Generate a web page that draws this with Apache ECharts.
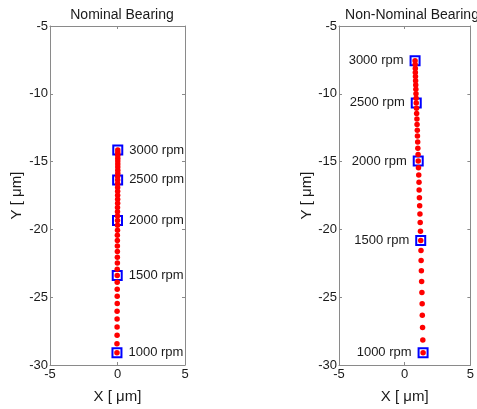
<!DOCTYPE html>
<html>
<head>
<meta charset="utf-8">
<script src="https://cdn.jsdelivr.net/npm/echarts@6/dist/echarts.min.js"></script>
<style>html,body{margin:0;padding:0;background:#fff}#c{width:477px;height:409px}</style>
</head>
<body>
<div id="c"></div>
<script>
// Speeds (rpm) of each measured point
var rpm = [1000,1050,1100,1150,1200,1250,1300,1350,1400,1450,1500,1550,1600,1650,1700,1750,1800,1850,1900,1950,2000,2050,2100,2150,2200,2250,2300,2350,2400,2450,2500,2550,2600,2650,2700,2750,2800,2850,2900,2950,3000];
var labeledRpm = [1000, 1500, 2000, 2500, 3000];

// Nominal bearing
var nominalX = [-0.04,-0.04,-0.03,-0.03,-0.03,-0.03,-0.02,-0.02,-0.02,-0.02,-0.02,-0.02,-0.01,-0.01,-0.01,-0.01,-0.01,-0.01,0.00,0.00,0.00,0.00,0.00,0.00,0.01,0.01,0.01,0.01,0.01,0.01,0.01,0.01,0.02,0.02,0.02,0.02,0.02,0.02,0.02,0.02,0.02];
var nominalY = [-29.10,-28.44,-27.80,-27.19,-26.60,-26.03,-25.47,-24.93,-24.41,-23.90,-23.40,-22.93,-22.48,-22.05,-21.63,-21.22,-20.82,-20.43,-20.06,-19.70,-19.35,-19.02,-18.70,-18.39,-18.08,-17.78,-17.48,-17.19,-16.91,-16.63,-16.35,-16.10,-15.86,-15.63,-15.40,-15.18,-14.96,-14.75,-14.54,-14.34,-14.15];

// Non-nominal bearing
var nonNominalX = [1.40,1.38,1.36,1.34,1.33,1.31,1.29,1.27,1.25,1.24,1.22,1.20,1.18,1.16,1.14,1.12,1.10,1.09,1.07,1.05,1.03,1.02,1.00,0.99,0.97,0.96,0.94,0.93,0.91,0.90,0.88,0.87,0.86,0.85,0.84,0.83,0.82,0.81,0.81,0.80,0.79];
var nonNominalY = [-29.10,-28.15,-27.23,-26.34,-25.48,-24.65,-23.84,-23.05,-22.29,-21.55,-20.82,-20.14,-19.49,-18.86,-18.25,-17.66,-17.09,-16.53,-15.99,-15.46,-14.95,-14.47,-14.01,-13.56,-13.12,-12.69,-12.27,-11.86,-11.46,-11.06,-10.67,-10.33,-10.00,-9.67,-9.35,-9.04,-8.73,-8.43,-8.13,-7.84,-7.56];

var titles = ['Nominal Bearing', 'Non-Nominal Bearing'];
var xName = 'X [ \u03bcm]';
var yName = 'Y [ \u03bcm]';
var xTicks = {min: -5, max: 5, interval: 5};
var yTicks = {min: -30, max: -5, interval: 5};

var FONT = 'Liberation Sans, Arial, sans-serif';
var AXC = '#8a8a8a';
var TXT = '#1a1a1a';

function pts(xs, ys) { return rpm.map(function (r, i) { return [xs[i], ys[i], r]; }); }
function anchors(xs, ys) {
  return labeledRpm.map(function (r) { var i = rpm.indexOf(r); return [xs[i], ys[i], r]; });
}

var grids = [
  {left: 50, top: 26, width: 135, height: 345},
  {left: 339, top: 26, width: 136, height: 345}
];

var xAxes = [], yAxes = [];
[0, 1].forEach(function (g) {
  xAxes.push({
    gridIndex: g, type: 'value', position: 'bottom', min: xTicks.min, max: xTicks.max, interval: xTicks.interval,
    name: xName, nameLocation: 'middle', nameGap: 24,
    nameTextStyle: {fontFamily: FONT, fontSize: 15, color: TXT},
    axisLine: {show: true, onZero: false, lineStyle: {color: AXC, width: 1}},
    axisTick: {show: true, inside: true, length: 3, lineStyle: {color: AXC}},
    axisLabel: {show: true, margin: 3, fontFamily: FONT, fontSize: 13, color: TXT},
    splitLine: {show: false}
  });
  xAxes.push({
    gridIndex: g, type: 'value', position: 'top', min: xTicks.min, max: xTicks.max, interval: xTicks.interval,
    axisLine: {show: true, onZero: false, lineStyle: {color: AXC, width: 1}},
    axisTick: {show: true, inside: true, length: 3, lineStyle: {color: AXC}},
    axisLabel: {show: false}, splitLine: {show: false}
  });
  yAxes.push({
    gridIndex: g, type: 'value', position: 'left', min: yTicks.min, max: yTicks.max, interval: yTicks.interval,
    name: yName, nameLocation: 'middle', nameGap: g === 0 ? 26 : 24, nameRotate: 90,
    nameTextStyle: {fontFamily: FONT, fontSize: 15, color: TXT},
    axisLine: {show: true, onZero: false, lineStyle: {color: AXC, width: 1}},
    axisTick: {show: true, inside: true, length: 3, lineStyle: {color: AXC}},
    axisLabel: {show: true, margin: 2, fontFamily: FONT, fontSize: 13, color: TXT},
    splitLine: {show: false}
  });
  yAxes.push({
    gridIndex: g, type: 'value', position: 'right', min: yTicks.min, max: yTicks.max, interval: yTicks.interval,
    axisLine: {show: true, onZero: false, lineStyle: {color: AXC, width: 1}},
    axisTick: {show: true, inside: true, length: 3, lineStyle: {color: AXC}},
    axisLabel: {show: false}, splitLine: {show: false}
  });
});

function squareSeries(g, xs, ys, side) {
  return {
    type: 'scatter', xAxisIndex: g * 2, yAxisIndex: g * 2, z: 3,
    symbol: 'rect', symbolSize: 9,
    itemStyle: {color: 'rgba(0,0,0,0)', borderColor: '#0000ff', borderWidth: 2, opacity: 1},
    label: {
      show: true, position: side, distance: 6,
      fontFamily: FONT, fontSize: 13, color: TXT,
      formatter: function (p) { return p.value[2] + ' rpm'; }
    },
    emphasis: {disabled: true},
    data: anchors(xs, ys)
  };
}
function dotSeries(g, xs, ys) {
  return {
    type: 'scatter', xAxisIndex: g * 2, yAxisIndex: g * 2, z: 4,
    symbol: 'circle', symbolSize: 5.5,
    itemStyle: {color: '#ff0000', opacity: 1},
    emphasis: {disabled: true},
    data: pts(xs, ys)
  };
}

var chart = echarts.init(document.getElementById('c'), null, {renderer: 'canvas'});
chart.setOption({
  animation: false,
  backgroundColor: '#ffffff',
  title: [
    {text: titles[0], left: 117, top: 3, textAlign: 'center', textStyle: {fontFamily: FONT, fontSize: 14, fontWeight: 'normal', color: TXT}},
    {text: titles[1], left: 407, top: 3, textAlign: 'center', textStyle: {fontFamily: FONT, fontSize: 14, fontWeight: 'normal', color: TXT}}
  ],
  grid: grids,
  xAxis: xAxes,
  yAxis: yAxes,
  series: [
    squareSeries(0, nominalX, nominalY, 'right'),
    dotSeries(0, nominalX, nominalY),
    squareSeries(1, nonNominalX, nonNominalY, 'left'),
    dotSeries(1, nonNominalX, nonNominalY)
  ]
});
</script>
</body>
</html>
